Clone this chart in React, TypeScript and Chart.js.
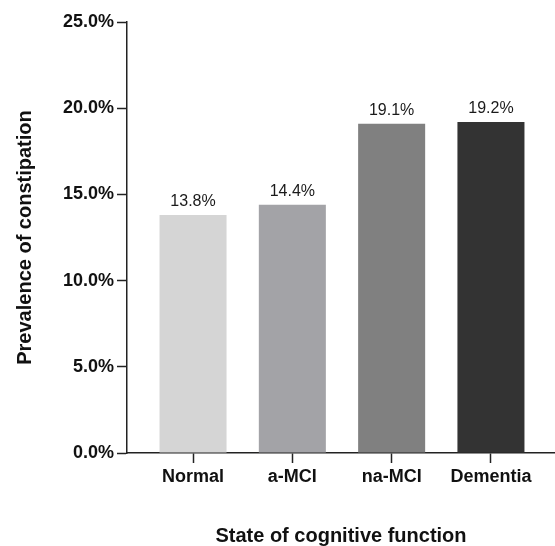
import React, { useEffect, useRef } from "react";
import { Chart, registerables } from "chart.js";

Chart.register(...registerables);

const categories: string[] = ["Normal", "a-MCI", "na-MCI", "Dementia"];
const prevalence: number[] = [13.8, 14.4, 19.1, 19.2];
const valueLabels: string[] = ["13.8%", "14.4%", "19.1%", "19.2%"];
const barColors: string[] = ["#d5d5d5", "#a3a3a7", "#808080", "#333333"];
const yTicks: number[] = [0, 5, 10, 15, 20, 25];
const xTitle = "State of cognitive function";
const yTitle = "Prevalence of constipation";

const FONT = "'Liberation Sans', Arial, Helvetica, sans-serif";

export default function App() {
  const ref = useRef<HTMLCanvasElement | null>(null);

  useEffect(() => {
    const canvas = ref.current;
    if (!canvas) return;

    const labelPlugin = {
      id: "valueLabels",
      afterDatasetsDraw(chart: any) {
        const ctx = chart.ctx;
        const meta = chart.getDatasetMeta(0);
        ctx.save();
        ctx.font = `16px ${FONT}`;
        ctx.fillStyle = "#1a1a1a";
        ctx.textAlign = "center";
        ctx.textBaseline = "alphabetic";
        meta.data.forEach((bar: any, i: number) => {
          ctx.fillText(valueLabels[i], bar.x, bar.y - 9);
        });
        ctx.restore();
      },
    };

    const chart = new Chart(canvas, {
      type: "bar",
      data: {
        datasets: [
          {
            data: prevalence.map((v, i) => ({ x: i, y: v })),
            backgroundColor: barColors,
            borderWidth: 0,
            categoryPercentage: 1,
            barPercentage: 0.675,
          },
        ],
      },
      options: {
        responsive: false,
        animation: false,
        devicePixelRatio: 1,
        layout: { padding: { top: 22, right: 0, left: 0, bottom: 0 } },
        plugins: {
          legend: { display: false },
          tooltip: { enabled: false },
        },
        scales: {
          x: {
            type: "linear",
            offset: false,
            min: -0.665,
            max: 3.645,
            afterFit: (scale: any) => {
              scale.height = 93;
            },
            afterBuildTicks: (scale: any) => {
              scale.ticks = categories.map((_, i) => ({ value: i }));
            },
            ticks: {
              includeBounds: false,
              autoSkip: false,
              maxRotation: 0,
              padding: 3,
              color: "#111",
              font: { family: FONT, size: 18, weight: "bold" },
              callback: (v: any) => categories[Number(v)] ?? "",
            },
            grid: {
              offset: false,
              drawOnChartArea: false,
              drawTicks: true,
              tickLength: 10,
              tickWidth: 1.5,
              color: "#222",
            },
            border: { display: true, color: "#222", width: 1.5 },
            title: {
              display: true,
              text: xTitle,
              color: "#111",
              font: { family: FONT, size: 20, weight: "bold", lineHeight: 1 },
              padding: { top: 0, bottom: 0 },
            },
          },
          y: {
            min: 0,
            max: 25,
            afterFit: (scale: any) => {
              scale.width = 127;
            },
            afterBuildTicks: (scale: any) => {
              scale.ticks = yTicks.map((v) => ({ value: v }));
            },
            ticks: {
              padding: 3,
              color: "#111",
              font: { family: FONT, size: 18, weight: "bold" },
              callback: (v: any) => Number(v).toFixed(1) + "%",
            },
            grid: {
              drawOnChartArea: false,
              drawTicks: true,
              tickLength: 10,
              tickWidth: 1.5,
              color: "#222",
            },
            border: { display: true, color: "#222", width: 1.5 },
            title: {
              display: true,
              text: yTitle,
              color: "#111",
              font: { family: FONT, size: 20, weight: "bold", lineHeight: 1 },
              padding: { top: 15, bottom: 0 },
            },
          },
        },
      },
      plugins: [labelPlugin],
    } as any);

    return () => chart.destroy();
  }, []);

  return (
    <div style={{ position: "absolute", left: 0, top: 0, width: 555, height: 546, background: "#fff" }}>
      <canvas ref={ref} width={555} height={546} style={{ width: 555, height: 546, display: "block" }} />
    </div>
  );
}
